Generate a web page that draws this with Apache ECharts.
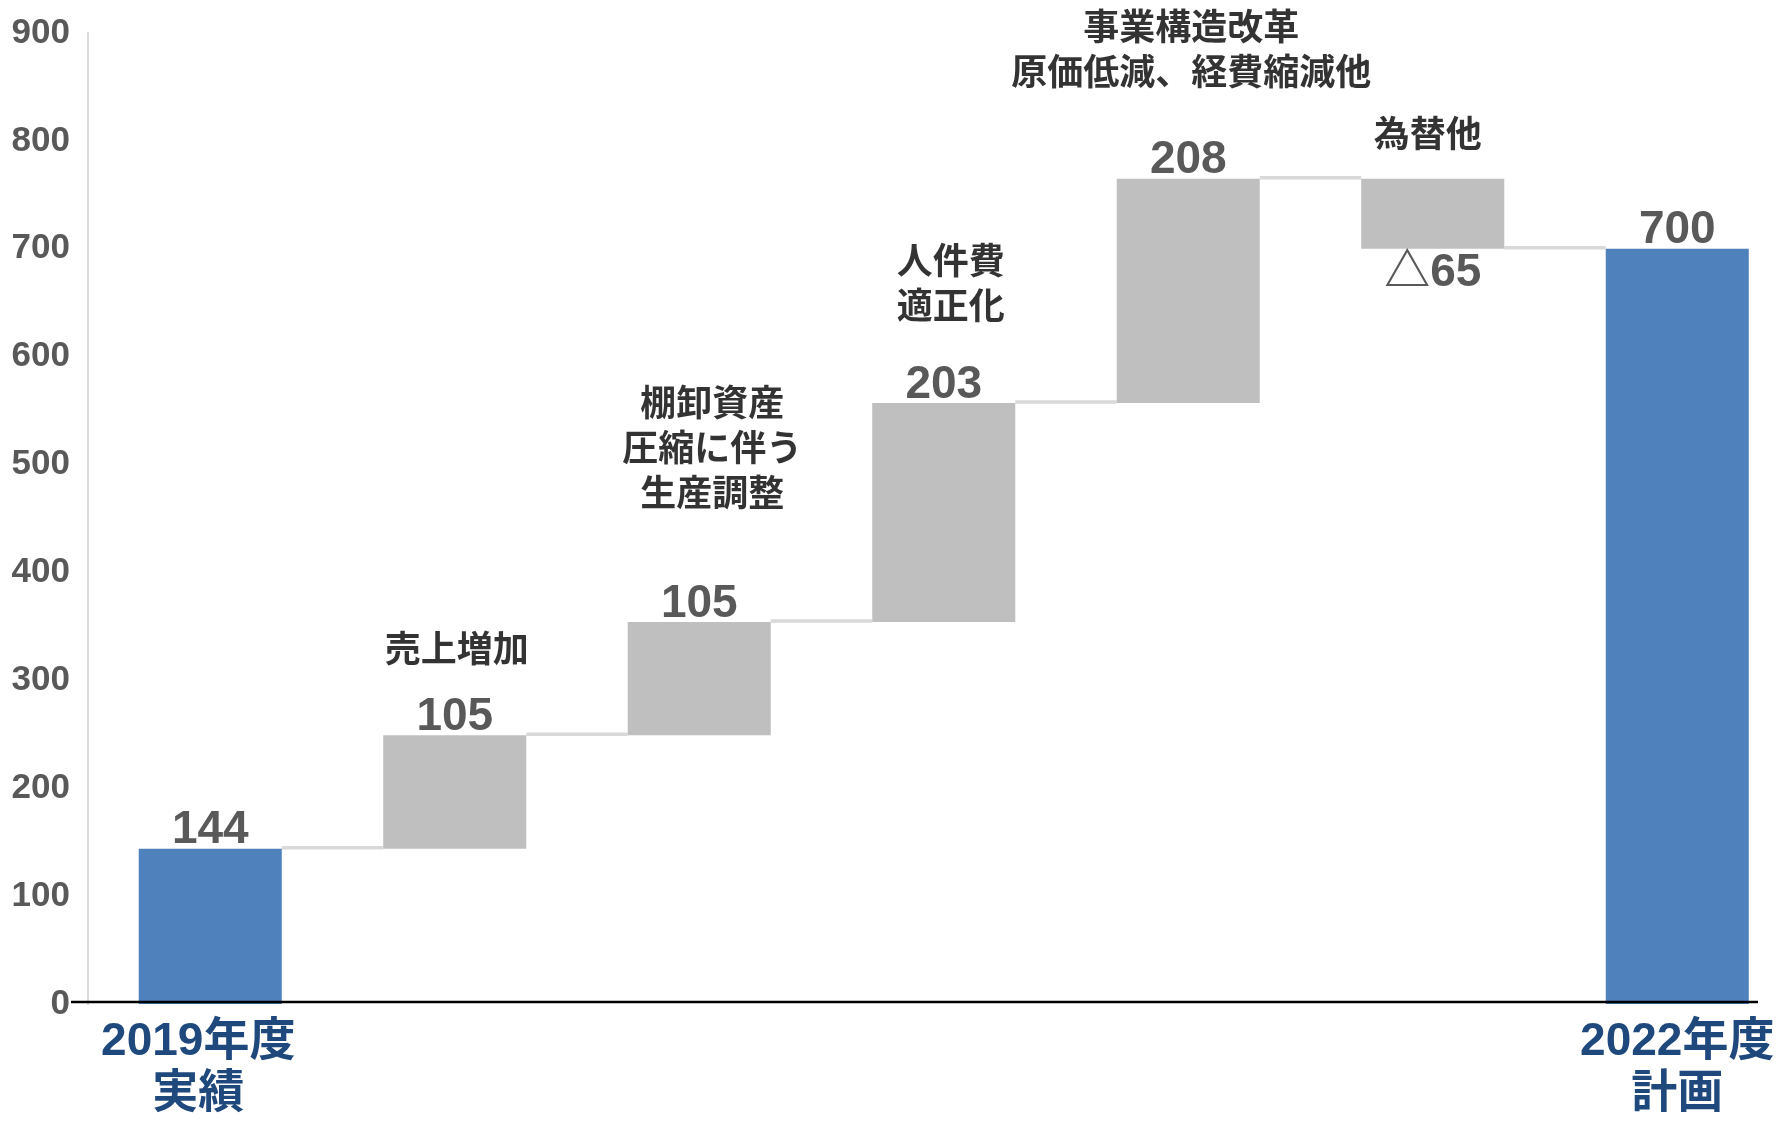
<!DOCTYPE html>
<html lang="ja">
<head>
<meta charset="utf-8">
<title>営業利益 増減要因</title>
<script src="https://cdn.jsdelivr.net/npm/echarts@6/dist/echarts.min.js"></script>
<style>
  html, body { margin: 0; padding: 0; background: #ffffff; }
  #chart { width: 1787px; height: 1124px; }
</style>
</head>
<body>
<div id="chart"></div>
<script>
// ---- data ----
const categories = ['2019年度\n実績', '売上', '在庫', '人件費', '構造改革', '為替', '2022年度\n計画'];
const startTotal = 144;
const changes = [105, 105, 203, 208, -65];
const endTotal = 700;
const notes = ['', '売上増加', '棚卸資産\n圧縮に伴う\n生産調整', '人件費\n適正化',
  '事業構造改革\n原価低減、経費縮減他', '為替他', ''];
const yMin = 0, yMax = 900, yStep = 100;

// ---- layout (pixel offsets of the note blocks from each bar's top) ----
const noteOffsets = [[0, 0], [2, -87], [13, -175], [7, -120], [3, -130], [-5, -45], [0, 0]];
const BAR_RATIO = 0.585;

const GRAY = '#bfbfbf', BLUE = '#4f81bd', LINK = '#d9d9d9';
const NUM_FONT = '"Liberation Sans", Arial, "Noto Sans CJK JP", sans-serif';
const JP_FONT = '"Noto Sans CJK JP", "Noto Sans CJK SC", sans-serif';

// running totals after each step
const levels = [startTotal];
changes.forEach(d => levels.push(levels[levels.length - 1] + d));

const n = categories.length;
const baseData = [], deltaData = [], totalData = [], noteData = [];
for (let i = 0; i < n; i++) {
  if (i === 0 || i === n - 1) {
    baseData.push('-');
    deltaData.push('-');
    totalData.push(i === 0 ? startTotal : endTotal);
    noteData.push([i, i === 0 ? startTotal : endTotal]);
  } else {
    const d = changes[i - 1];
    const prev = levels[i - 1], cur = levels[i];
    baseData.push(Math.min(prev, cur));
    deltaData.push({
      value: Math.abs(d),
      signed: d,
      label: { position: d < 0 ? 'bottom' : 'top', distance: d < 0 ? 2 : -5 }
    });
    totalData.push('-');
    noteData.push([i, Math.max(prev, cur)]);
  }
}
const linkData = levels.map((v, i) => [i, v]);

// category axis entries; the first label sits a little left of its bar
const axisData = categories.map((c, i) => (i === 0
  ? { value: c, textStyle: { padding: [0, 24, 0, 0] } }
  : { value: c }));

const valueLabel = {
  show: true,
  fontFamily: NUM_FONT,
  fontSize: 46,
  fontWeight: 'bold',
  color: '#595959',
  distance: -5
};

const chart = echarts.init(document.getElementById('chart'), null, { renderer: 'canvas' });

chart.setOption({
  animation: false,
  backgroundColor: '#ffffff',
  grid: { left: 88, right: -12.5, top: 33, bottom: 120, containLabel: false, outerBoundsMode: 'none' },
  xAxis: {
    type: 'category',
    data: axisData,
    axisLine: { show: false },
    axisTick: { show: false },
    splitLine: { show: false },
    axisLabel: {
      interval: 0,
      margin: 12,
      fontFamily: NUM_FONT,
      fontSize: 46,
      fontWeight: 'bold',
      color: '#1f497d',
      lineHeight: 52,
      formatter: (v, idx) => (idx === 0 || idx === n - 1) ? v : ''
    }
  },
  yAxis: {
    type: 'value',
    min: yMin,
    max: yMax,
    interval: yStep,
    axisLine: { show: true, lineStyle: { color: '#d9d9d9', width: 2 } },
    axisTick: { show: false },
    splitLine: { show: false },
    axisLabel: {
      margin: 18,
      fontFamily: NUM_FONT,
      fontSize: 35,
      fontWeight: 'bold',
      color: '#595959'
    }
  },
  series: [
    {
      name: 'base',
      type: 'bar',
      stack: 'wf',
      barWidth: (BAR_RATIO * 100) + '%',
      silent: true,
      itemStyle: { color: 'transparent' },
      data: baseData
    },
    {
      name: 'change',
      type: 'bar',
      stack: 'wf',
      barWidth: (BAR_RATIO * 100) + '%',
      itemStyle: { color: GRAY },
      label: Object.assign({}, valueLabel, {
        formatter: p => {
          const s = p.data.signed;
          return s < 0 ? '△' + (-s) : String(s);
        }
      }),
      data: deltaData
    },
    {
      name: 'total',
      type: 'bar',
      stack: 'wf',
      barWidth: (BAR_RATIO * 100) + '%',
      itemStyle: { color: BLUE },
      label: Object.assign({}, valueLabel, { position: 'top' }),
      data: totalData
    },
    {
      name: 'link',
      type: 'custom',
      silent: true,
      z: 1,
      renderItem: (params, api) => {
        const i = api.value(0);
        if (i >= n - 1) return null;
        const lvl = api.value(1);
        const p0 = api.coord([i, lvl]);
        const p1 = api.coord([i + 1, lvl]);
        const half = api.size([1, 0])[0] * BAR_RATIO / 2;
        return {
          type: 'line',
          shape: { x1: p0[0] + half, y1: p0[1] - 1, x2: p1[0] - half, y2: p1[1] - 1 },
          style: { stroke: LINK, lineWidth: 3.5 }
        };
      },
      data: linkData
    },
    {
      name: 'note',
      type: 'scatter',
      symbolSize: 1,
      silent: true,
      itemStyle: { color: 'transparent' },
      label: {
        show: true,
        position: 'inside',
        align: 'center',
        verticalAlign: 'middle',
        fontFamily: JP_FONT,
        fontSize: 36,
        fontWeight: 'bold',
        color: '#000000',
        lineHeight: 45,
        formatter: p => notes[p.dataIndex]
      },
      labelLayout: p => ({ dx: noteOffsets[p.dataIndex][0], dy: noteOffsets[p.dataIndex][1] }),
      data: noteData
    }
  ]
});

// horizontal zero line drawn over the bars
const y0 = chart.convertToPixel({ yAxisIndex: 0 }, 0);
chart.setOption({
  graphic: [{
    type: 'line',
    z: 100,
    silent: true,
    shape: { x1: 71, y1: y0 - 2, x2: 1758, y2: y0 - 2 },
    style: { stroke: '#000000', lineWidth: 2.5 }
  }]
});
</script>
</body>
</html>
